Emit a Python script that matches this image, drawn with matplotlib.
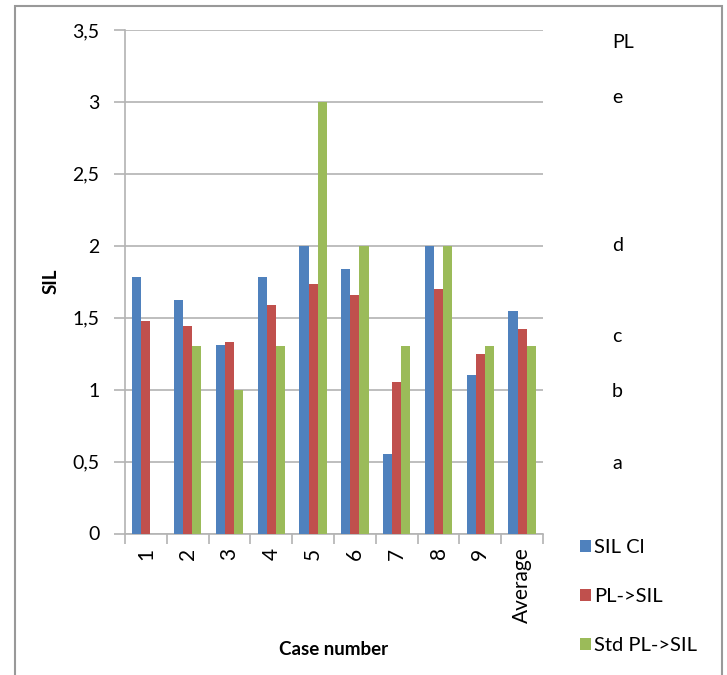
import matplotlib
matplotlib.use("Agg")
import matplotlib.pyplot as plt
import numpy as np
from matplotlib.patches import Rectangle
from matplotlib.ticker import FuncFormatter, FixedLocator

plt.rcParams["font.family"] = ["Lato", "DejaVu Sans"]

# Data
cases = ["1", "2", "3", "4", "5", "6", "7", "8", "9", "Average"]
sil_cl = [1.78, 1.62, 1.31, 1.78, 2.0, 1.84, 0.55, 2.0, 1.10, 1.55]
pl_sil = [1.475, 1.44, 1.33, 1.59, 1.735, 1.66, 1.05, 1.70, 1.25, 1.42]
std_pl_sil = [0, 1.3, 1.0, 1.3, 3.0, 2.0, 1.3, 2.0, 1.3, 1.3]

series_names = ["SIL Cl", "PL->SIL", "Std PL->SIL"]
colors = ["#4F81BD", "#C0504D", "#9BBB59"]

# PL level labels on the right-hand side
pl_labels = ["PL", "e", "d", "c", "b", "a"]
pl_levels = [3.41, 3.03, 2.0, 1.37, 0.99, 0.49]

grid_col = "#B3B3B3"
fs = 14

fig = plt.figure(figsize=(7.27, 6.75), dpi=100)
ax = fig.add_axes([125 / 727, 1 - 533.5 / 675, 418 / 727, 503.5 / 675])

x = np.arange(len(cases))
w = 0.22
for k, (vals, name, col) in enumerate(zip([sil_cl, pl_sil, std_pl_sil], series_names, colors)):
    ax.bar(x + (k - 1) * w, vals, width=w, color=col, label=name, zorder=3)

ax.set_xlim(-0.5, len(cases) - 0.5)
ax.set_ylim(0, 3.5)
ax.set_yticks(np.arange(0, 3.51, 0.5))
ax.yaxis.set_major_formatter(FuncFormatter(lambda v, p: f"{v:g}".replace(".", ",")))
ax.yaxis.grid(True, color=grid_col, linewidth=1.2, zorder=0)
ax.tick_params(axis="y", length=8, width=1.2, color=grid_col, labelsize=fs, pad=10.5)

ax.set_xticks(x)
ax.set_xticklabels(cases, rotation=90, fontsize=fs + 1)
ax.tick_params(axis="x", which="major", length=0, pad=10)
ax.xaxis.set_minor_locator(FixedLocator(np.arange(-0.5, len(cases), 1.0)))
ax.tick_params(axis="x", which="minor", length=7, width=1.2, color=grid_col)

for s in ["top", "right"]:
    ax.spines[s].set_visible(False)
for s in ["left", "bottom"]:
    ax.spines[s].set_color(grid_col)
    ax.spines[s].set_linewidth(1.2)

ax.set_ylabel("SIL", fontsize=fs - 0.5, fontweight="bold", labelpad=9)
ax.set_xlabel("Case number", fontsize=fs - 0.5, fontweight="bold", labelpad=13)

# right-hand PL labels
for lab, lev in zip(pl_labels, pl_levels):
    ax.text(1.165, lev, lab, transform=ax.get_yaxis_transform(), fontsize=fs,
            ha="left", va="center", clip_on=False)

leg = ax.legend(loc="upper left", bbox_to_anchor=(1.07, 0.005), frameon=False,
                fontsize=fs + 0.5, handlelength=0.55, handleheight=0.55, handletextpad=0.15,
                labelspacing=1.6, borderaxespad=0)

# outer chart border
fig.add_artist(Rectangle((15 / 727, -0.05), 707 / 727, 1.05 - 6 / 675,
                         transform=fig.transFigure, fill=False,
                         edgecolor="#999999", linewidth=1.5))

fig.savefig("out.png", dpi=100)
